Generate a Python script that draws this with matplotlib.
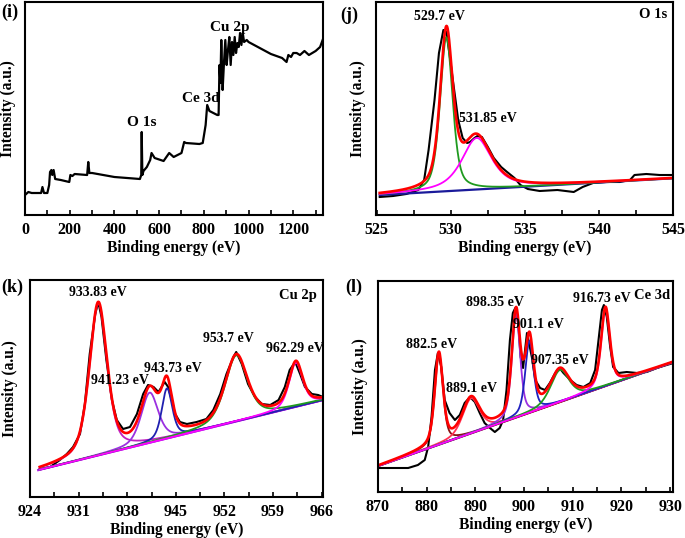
import numpy as np
import matplotlib.pyplot as plt
from matplotlib.ticker import MultipleLocator, NullLocator

plt.rcParams['font.family'] = ['Liberation Serif', 'DejaVu Serif']
plt.rcParams['font.weight'] = 'bold'
plt.rcParams['axes.labelweight'] = 'bold'
plt.rcParams['axes.linewidth'] = 1.5

# ---------------- (i) survey spectrum ----------------
survey_ev = [0, 15, 30, 60, 72, 78, 85, 100, 108, 112, 118, 122, 128, 135, 160, 198, 203, 212, 222,
             278, 283, 288, 300, 400, 514, 520, 522, 525, 530, 545, 560, 566, 580, 620, 645, 665,
             700, 712, 720, 780, 795, 808, 815, 825, 860, 866, 870, 874, 878, 884, 890, 896, 902,
             908, 914, 920, 926, 932, 938, 944, 950, 956, 962, 968, 974, 980, 992, 1000, 1050,
             1100, 1150, 1170, 1178, 1190, 1200, 1215, 1230, 1250, 1270, 1300, 1320, 1333]
survey_int = [20, 23, 22, 22, 22, 28, 22, 22, 30, 43, 45, 40, 45, 36, 35, 33, 40, 39, 41, 40,
              53, 42, 42, 38, 36, 40, 83, 40, 44, 48, 55, 62, 57, 54, 62, 58, 62, 73, 72, 71,
              72, 90, 110, 104, 100, 100, 150, 132, 175, 125, 152, 175, 150, 165, 178, 150, 173,
              160, 178, 162, 172, 168, 182, 170, 182, 173, 175, 173, 167, 161, 157, 153, 160,
              158, 162, 162, 160, 164, 160, 164, 168, 176]
survey_labels = ['O 1s', 'Ce 3d', 'Cu 2p']
survey_label_x = [521, 787, 918]
survey_label_y = [93, 117, 188]

# ---------------- (j) O 1s ----------------
o1s_ev = [525.2, 526.1, 527.0, 527.8, 528.2, 528.5, 528.9, 529.2, 529.5, 529.7, 529.9, 530.2,
          530.5, 530.8, 531.1, 531.3, 531.6, 531.8, 532.1, 532.5, 532.9, 533.4, 533.8, 534.3,
          534.7, 535.2, 536.0, 537.2, 538.3, 538.9, 539.6, 540.5, 541.4, 542.1, 542.4, 543.2,
          544.1, 545.0]
o1s_int = [18, 19, 21, 25, 35, 65, 115, 162, 185, 183, 162, 128, 95, 77, 72, 73, 77, 79, 78,
           68, 57, 48, 43, 37, 30, 26, 24, 25, 23, 28, 32, 33, 33, 35, 40, 41, 40, 40]
o1s_base_ev = [525.2, 545.0]
o1s_base_int = [20, 36.7]
o1s_center = [529.7, 531.75]
o1s_height = [154, 51.5]
o1s_fwhm = [1.0, 2.4]
o1s_eta = [0.5, 0.7]
o1s_colors = ['#1f9a1f', '#ff00ff']
o1s_labels = ['529.7 eV', '531.85 eV']
o1s_label_x = [529.26, 532.5]
o1s_label_y = [198, 97]

# ---------------- (k) Cu 2p ----------------
cu_ev = [925.4, 926.9, 928.3, 929.3, 930.2, 931.2, 931.9, 932.6, 933.4, 933.83, 934.3, 935.0,
         935.8, 936.5, 937.4, 938.4, 939.4, 940.3, 941.0, 941.8, 942.5, 943.4, 943.9, 944.6,
         944.9, 945.6, 946.6, 948.0, 949.4, 950.4, 951.4, 952.3, 953.3, 953.7, 954.5, 955.4,
         956.4, 957.4, 958.6, 959.8, 960.7, 961.4, 962.2, 962.9, 963.6, 964.6, 965.5, 966.2]
cu_int = [28, 30, 37, 43, 50, 63, 93, 143, 183, 195, 180, 137, 97, 77, 68, 70, 83, 103, 112,
          110, 105, 115, 110, 92, 83, 75, 73, 75, 78, 87, 103, 123, 140, 145, 133, 113, 100, 93,
          92, 97, 110, 127, 135, 123, 110, 103, 102, 100]
cu_base_ev = [925.2, 966.2]
cu_base_int = [27, 97]
cu_center = [933.83, 941.23, 943.73, 953.7, 962.29]
cu_height = [152, 50, 50, 66, 44]
cu_fwhm = [3.0, 2.9, 1.8, 3.8, 2.3]
cu_eta = [0.5, 0.5, 0.5, 0.5, 0.5]
cu_colors = ['#c020c0', '#9b30e0', '#2020b0', '#1f9a1f', '#ff00ff']
cu_labels = ['933.83 eV', '941.23 eV', '943.73 eV', '953.7 eV', '962.29 eV']
cu_label_x = [933.8, 937.0, 944.6, 952.6, 962.2]
cu_label_y = [205, 117, 128, 158, 148]

# ---------------- (l) Ce 3d ----------------
ce_ev = [870.0, 872.1, 874.1, 876.2, 878.2, 879.6, 880.3, 881.0, 881.7, 882.3, 883.0, 883.7,
         884.7, 885.8, 886.8, 887.8, 888.9, 889.9, 890.9, 891.9, 893.0, 894.0, 895.0, 895.7,
         896.4, 897.1, 897.7, 898.2, 898.8, 899.3, 899.8, 900.6, 901.6, 902.3, 903.3, 904.3,
         905.3, 906.4, 907.3, 908.1, 909.5, 910.8, 912.2, 913.6, 914.6, 915.3, 916.0, 916.4,
         917.0, 917.7, 918.3, 919.4, 921.1, 923.2, 925.2, 927.3, 929.3, 930.7]
ce_int = [24, 24, 24, 24, 27, 32, 45, 75, 122, 139, 125, 92, 79, 72, 77, 89, 95, 90, 79, 69,
          64, 60, 64, 72, 102, 152, 179, 184, 169, 135, 124, 159, 135, 112, 104, 102, 109, 119,
          124, 119, 112, 107, 105, 109, 122, 152, 182, 187, 175, 145, 125, 119, 120, 119, 120,
          124, 127, 129]
ce_base_ev = [870.0, 930.7]
ce_base_int = [26, 130]
ce_center = [882.5, 889.1, 898.35, 901.1, 907.35, 916.73]
ce_height = [91, 35, 104, 72, 32, 78]
ce_fwhm = [2.0, 4.1, 2.0, 2.0, 4.5, 2.1]
ce_eta = [0.5, 0.5, 0.5, 0.5, 0.5, 0.5]
ce_colors = ['#8b1010', '#ff3355', '#9b30e0', '#2020c0', '#1f9a1f', '#ff00ff']
ce_labels = ['882.5 eV', '889.1 eV', '898.35 eV', '901.1 eV', '907.35 eV', '916.73 eV']
ce_label_x = [881.0, 889.3, 894.0, 903.0, 907.3, 916.0]
ce_label_y = [147, 104, 189, 167, 132, 193]


def pseudo_voigt(x, c, h, w, eta):
    d = (x - c) / w
    return h * (eta / (1 + 4 * d ** 2) + (1 - eta) * np.exp(-4 * np.log(2) * d ** 2))


W, H = 685, 538
fig = plt.figure(figsize=(W / 100, H / 100), dpi=100)


def add_ax(l, t, r, b):
    return fig.add_axes([l / W, 1 - b / H, (r - l) / W, (b - t) / H])


def style(ax, xlim, ylim, major, minor, xlab_y, ylab_x):
    ax.set_xlim(*xlim)
    ax.set_ylim(*ylim)
    ax.xaxis.set_major_locator(MultipleLocator(major))
    ax.xaxis.set_minor_locator(MultipleLocator(minor))
    ax.yaxis.set_major_locator(NullLocator())
    ax.tick_params(axis='x', which='both', direction='in', length=3.5, width=1.2, labelsize=11.5, pad=5)
    ax.set_xlabel('Binding energy (eV)', fontsize=11.2, va='center')
    ax.set_ylabel('Intensity (a.u.)', fontsize=11.2, va='center')
    ax.xaxis.set_label_coords(0.5, xlab_y)
    ax.yaxis.set_label_coords(ylab_x, 0.5)


def draw_fit(ax, ev, base_ev, base_int, centers, heights, fwhms, etas, colors, base_colors):
    x = np.linspace(min(ev), max(ev), 800)
    base = np.interp(x, base_ev, base_int)
    for bc in base_colors:
        ax.plot(base_ev, base_int, color=bc, lw=1.6)
    total = base.copy()
    for c, h, w, e, col in zip(centers, heights, fwhms, etas, colors):
        comp = pseudo_voigt(x, c, h, w, e)
        total += comp
        ax.plot(x, base + comp, color=col, lw=1.3)
    ax.plot(x, total, color='#ff0000', lw=1.9)


# (i)
ax = add_ax(25, 2, 323, 215)
ax.plot(survey_ev, survey_int, color='black', lw=1.6)
for t, x, y in zip(survey_labels, survey_label_x, survey_label_y):
    ax.text(x, y, t, ha='center', va='center', fontsize=11)
style(ax, (0, 1333), (0, 213), 200, 100, -0.155, -0.057)
fig.text(1 / W, 1 - 12 / H, '(i)', fontsize=13, va='center', ha='left')

# (j)
ax = add_ax(376, 2, 673, 215)
draw_fit(ax, o1s_ev, o1s_base_ev, o1s_base_int, o1s_center, o1s_height, o1s_fwhm, o1s_eta,
         o1s_colors, ['#1a1a9a'])
ax.plot(o1s_ev, o1s_int, color='black', lw=1.5, zorder=1)
for t, x, y in zip(o1s_labels, o1s_label_x, o1s_label_y):
    ax.text(x, y, t, ha='center', va='center', fontsize=10)
ax.text(0.98, 0.94, 'O 1s', transform=ax.transAxes, ha='right', va='center', fontsize=10.5)
style(ax, (524.95, 545), (0, 213), 5, 2.5, -0.155, -0.061)
fig.text(340 / W, 1 - 15 / H, '(j)', fontsize=13, va='center', ha='left')

# (k)
ax = add_ax(30, 280, 323, 497)
draw_fit(ax, cu_ev, cu_base_ev, cu_base_int, cu_center, cu_height, cu_fwhm, cu_eta,
         cu_colors, ['#ff00ff', '#9b30e0'])
ax.plot(cu_ev, cu_int, color='black', lw=1.5, zorder=1)
for t, x, y in zip(cu_labels, cu_label_x, cu_label_y):
    ax.text(x, y, t, ha='center', va='center', fontsize=10)
ax.text(0.98, 0.93, 'Cu 2p', transform=ax.transAxes, ha='right', va='center', fontsize=10.5)
style(ax, (924, 966.2), (0, 217), 7, 3.5, -0.152, -0.068)
fig.text(1 / W, 1 - 287 / H, '(k)', fontsize=13, va='center', ha='left')

# (l)
ax = add_ax(378, 281, 673, 492)
draw_fit(ax, ce_ev, ce_base_ev, ce_base_int, ce_center, ce_height, ce_fwhm, ce_eta,
         ce_colors, ['#9b30e0', '#8b1010'])
ax.plot(ce_ev, ce_int, color='black', lw=1.5, zorder=1)
for t, x, y in zip(ce_labels, ce_label_x, ce_label_y):
    ax.text(x, y, t, ha='center', va='center', fontsize=10)
ax.text(0.99, 0.93, 'Ce 3d', transform=ax.transAxes, ha='right', va='center', fontsize=10.5)
style(ax, (870, 930.6), (0, 211), 10, 5, -0.156, -0.061)
fig.text(345 / W, 1 - 287 / H, '(l)', fontsize=13, va='center', ha='left')

fig.savefig('out.png', dpi=100)
